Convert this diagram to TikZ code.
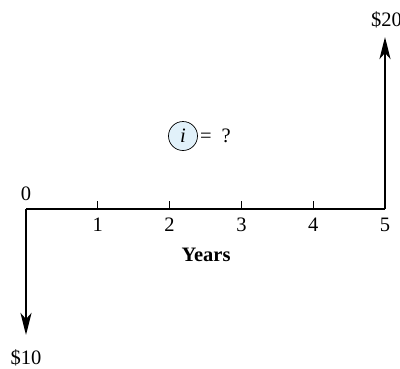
\documentclass[tikz,border=0pt]{standalone}
\usepackage{fontspec}
\setmainfont{Liberation Serif}
\usetikzlibrary{arrows.meta}
\definecolor{ifill}{HTML}{E1F1FA}
\begin{document}
\begin{tikzpicture}[x=1pt,y=-1pt,
  lbl/.style={inner sep=0pt,font=\fontsize{20.5}{24}\selectfont},
  axisline/.style={line width=1.6pt},
  flow/.style={line width=2.6pt,-{Stealth[length=22pt,width=11pt,inset=6pt]}},
  tick/.style={line width=1pt}]
\useasboundingbox (0,0) rectangle (400,368);
\coordinate (p0) at (26,209);
\coordinate (p5) at (385,209);
\draw[axisline] (p0) -- (p5);
\foreach \k in {1,2,3,4}{
  \coordinate (t\k) at ({26+71.8*\k},209);
  \draw[tick] (t\k) -- ++(0,-8);
  \node[lbl] (n\k) at ({26+71.8*\k},225) {\k};
}
\node[lbl] (n5) at (385,225) {5};
\node[lbl] (n0) at (26,194) {0};
\coordinate (down) at (26,335);
\coordinate (up) at (385,37);
\draw[flow] (p0) -- (down);
\draw[flow] (p5) -- (up);
\node[lbl] (m10) at (26,358) {\$10};
\node[lbl] (m20) at (386.5,20) {\$20};
\node[lbl] (years) at (206,255) {\textbf{Years}};
\node[lbl,draw,circle,fill=ifill,line width=0.7pt,minimum size=29pt] (ic) at (183,136) {\textit{i}};
\node[lbl,anchor=west] (eq) at ([xshift=2pt]ic.east) {=\hspace{10pt}?};
\end{tikzpicture}
\end{document}
